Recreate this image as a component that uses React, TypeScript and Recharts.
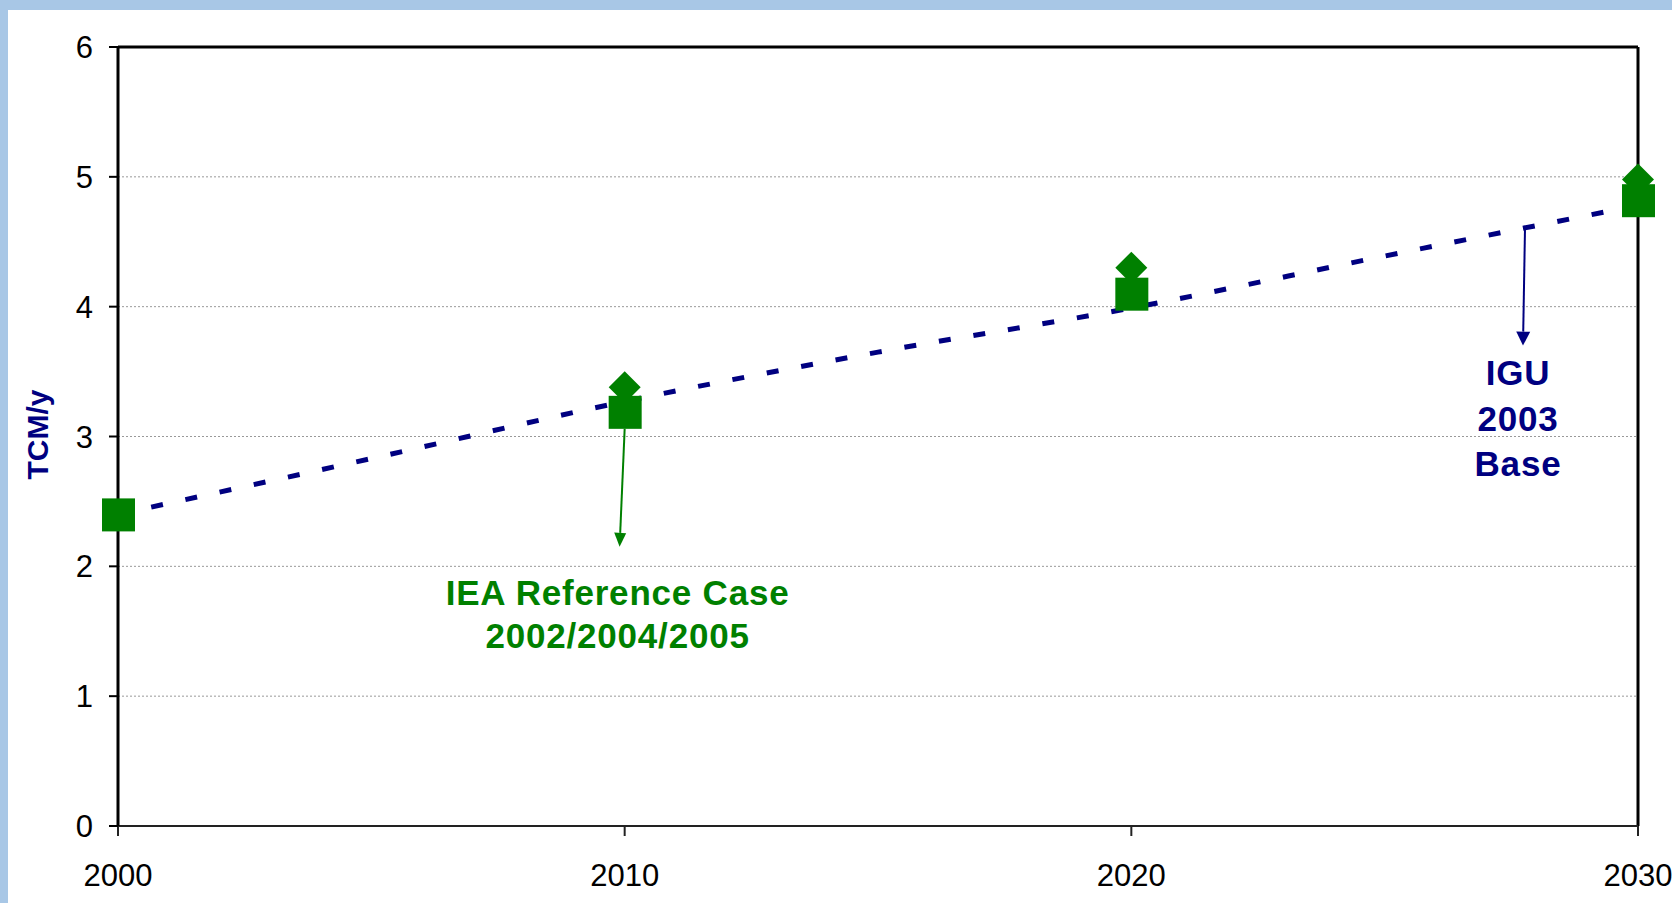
import React from 'react';
import { ComposedChart, Line, Scatter, XAxis, YAxis, CartesianGrid, ReferenceLine } from 'recharts';

// IGU 2003 base projection (dotted line)
const years = [2000, 2005, 2010, 2015, 2020, 2025, 2030];
const iguBase = [2.4, 2.83, 3.27, 3.65, 3.99, 4.39, 4.78];

// IEA reference case points
const squareYears = [2000, 2010, 2020, 2030];
const ieaSquares = [2.4, 3.19, 4.1, 4.82];
const diamondYears = [2010, 2020, 2030];
const ieaDiamonds = [3.38, 4.3, 4.98];

const yTicks = [0, 1, 2, 3, 4, 5, 6];
const xTicks = [2000, 2010, 2020, 2030];

const ieaLabel = ['IEA Reference Case', '2002/2004/2005'];
const iguLabel = ['IGU', '2003', 'Base'];

const FONT = '"Liberation Sans", Arial, Helvetica, sans-serif';
const NAVY = '#000080';
const GREEN = '#008000';

const lineData = years.map((y, i) => ({ year: y, value: iguBase[i] }));
const squareData = squareYears.map((y, i) => ({ year: y, value: ieaSquares[i] }));
const diamondData = diamondYears.map((y, i) => ({ year: y, value: ieaDiamonds[i] }));

const SquareMark = (p: any) => (
  <rect x={p.cx - 16} y={p.cy - 16} width={33} height={33} fill={GREEN} />
);

const DiamondMark = (p: any) => (
  <polygon
    points={`${p.cx},${p.cy - 16} ${p.cx + 16},${p.cy} ${p.cx},${p.cy + 16} ${p.cx - 16},${p.cy}`}
    fill={GREEN}
  />
);

// arrow drawn from the segment end points, with the caption stacked under the tip
function arrowWithText(color: string, headLen: number, headHalf: number, lines: string[], firstDy: number, gap: number, dx: number) {
  return (p: any) => {
    const { x1, y1, x2, y2 } = p;
    const ang = Math.atan2(y2 - y1, x2 - x1);
    const bx = x2 - headLen * Math.cos(ang);
    const by = y2 - headLen * Math.sin(ang);
    const px = -Math.sin(ang) * headHalf;
    const py = Math.cos(ang) * headHalf;
    return (
      <g>
        <line x1={x1} y1={y1} x2={bx} y2={by} stroke={color} strokeWidth={2} />
        <polygon points={`${x2},${y2} ${bx + px},${by + py} ${bx - px},${by - py}`} fill={color} />
        {lines.map((t, i) => (
          <text
            key={i}
            x={x2 + dx}
            y={y2 + firstDy + i * gap}
            textAnchor="middle"
            dominantBaseline="central"
            fill={color}
            fontFamily={FONT}
            fontWeight="bold"
            fontSize={35}
            letterSpacing={0.8}
          >
            {t}
          </text>
        ))}
      </g>
    );
  };
}

export default function App() {
  return (
    <div style={{ position: 'absolute', left: 0, top: 0, width: 1672, height: 903, background: '#a8c7e6', overflow: 'hidden' }}>
      <div style={{ position: 'absolute', left: 8, top: 10, right: 0, bottom: 0, background: '#fff' }} />
      <div style={{ position: 'absolute', left: 0, top: 0 }}>
        <ComposedChart width={1672} height={903} margin={{ top: 47, right: 34, bottom: 17, left: 58 }}>
          <CartesianGrid horizontal vertical={false} stroke="#999" strokeDasharray="2 2" />
          <XAxis
            type="number"
            dataKey="year"
            domain={[2000, 2030]}
            ticks={xTicks}
            height={60}
            axisLine={{ stroke: '#222', strokeWidth: 2 }}
            tickLine={{ stroke: '#222', strokeWidth: 2 }}
            tickSize={10}
            tickMargin={28}
            tick={{ fill: '#000', fontSize: 31, fontFamily: FONT }}
          />
          <YAxis
            type="number"
            domain={[0, 6]}
            ticks={yTicks}
            width={60}
            axisLine={{ stroke: '#000', strokeWidth: 3 }}
            tickLine={{ stroke: '#000', strokeWidth: 2 }}
            tickSize={9}
            tickMargin={16}
            tick={{ fill: '#000', fontSize: 31, fontFamily: FONT }}
            label={(props: any) => {
              const vb = props.viewBox;
              const cy = vb.y + vb.height / 2 - 2;
              return (
                <text
                  x={37}
                  y={cy}
                  transform={`rotate(-90, 37, ${cy})`}
                  textAnchor="middle"
                  dominantBaseline="central"
                  fill={NAVY}
                  fontFamily={FONT}
                  fontWeight="bold"
                  fontSize={30}
                >
                  TCM/y
                </text>
              );
            }}
          />
          <ReferenceLine y={6} stroke="#000" strokeWidth={3} />
          <ReferenceLine x={2030} stroke="#000" strokeWidth={3} />
          <Line
            data={lineData}
            dataKey="value"
            type="monotone"
            stroke={NAVY}
            strokeWidth={5}
            strokeDasharray="12 23"
            strokeDashoffset={1}
            dot={false}
            activeDot={false}
            isAnimationActive={false}
          />
          <Scatter data={diamondData} dataKey="value" shape={DiamondMark} isAnimationActive={false} />
          <Scatter data={squareData} dataKey="value" shape={SquareMark} isAnimationActive={false} />
          <ReferenceLine
            segment={[{ x: 2010, y: 3.06 }, { x: 2009.9, y: 2.15 }]}
            shape={arrowWithText(GREEN, 14, 6, ieaLabel, 46, 43, -2)}
          />
          <ReferenceLine
            segment={[{ x: 2027.77, y: 4.61 }, { x: 2027.73, y: 3.7 }]}
            shape={arrowWithText(NAVY, 14, 7, iguLabel, 27, 45.5, -5)}
          />
        </ComposedChart>
      </div>
    </div>
  );
}
